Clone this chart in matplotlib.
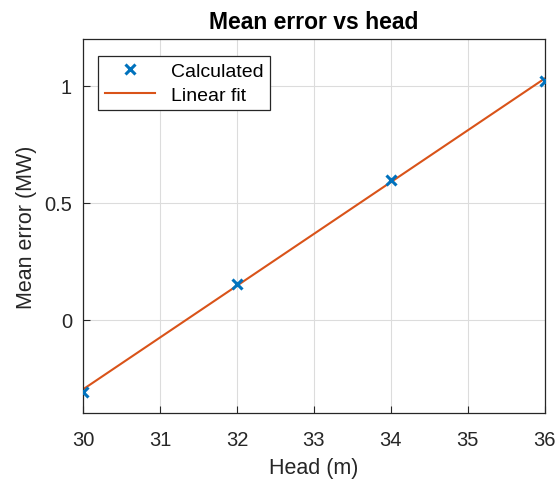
import numpy as np
import matplotlib.pyplot as plt

# data
head = [30, 32, 34, 36]
mean_error = [-0.308, 0.154, 0.598, 1.021]

# linear fit through the points
coef = np.polyfit(head, mean_error, 1)
fit_x = np.array([30, 36])
fit_y = np.polyval(coef, fit_x)

plt.rcParams['font.family'] = ['Liberation Sans', 'DejaVu Sans']

fig = plt.figure(figsize=(5.57, 4.81), dpi=100)
ax = fig.add_axes([0.149, 0.139, 0.829, 0.778])

ax.plot(head, mean_error, 'x', color='#0072BD', markersize=7, markeredgewidth=2.2,
        label='Calculated', zorder=3)
ax.plot(fit_x, fit_y, '-', color='#D95319', linewidth=1.5, label='Linear fit')

ax.set_xlim(30, 36)
ax.set_ylim(-0.4, 1.2)
ax.set_xticks([30, 31, 32, 33, 34, 35, 36])
ax.set_yticks([0, 0.5, 1])
ax.set_yticklabels(['0', '0.5', '1'])
ax.grid(True, color='#dcdcdc', linewidth=0.8)
ax.set_axisbelow(True)
ax.tick_params(direction='in', labelsize=14.5, colors='#262626', length=5)
ax.tick_params(axis='x', pad=12)
ax.tick_params(axis='y', pad=8)
for s in ax.spines.values():
    s.set_color('#262626')
    s.set_linewidth(0.9)

ax.set_xlabel('Head (m)', fontsize=15.5, color='#262626', labelpad=6)
ax.set_ylabel('Mean error (MW)', fontsize=15.5, color='#262626', labelpad=5)
ax.set_title('Mean error vs head', fontsize=16.5, fontweight='bold', pad=8)

leg = ax.legend(loc='upper left', bbox_to_anchor=(0.032, 0.955), fontsize=14, fancybox=False,
                edgecolor='#262626', framealpha=1, handlelength=2.6, borderpad=0.35,
                labelspacing=0.3, borderaxespad=0)
leg.get_frame().set_linewidth(0.9)

plt.savefig('out.png', dpi=100)
